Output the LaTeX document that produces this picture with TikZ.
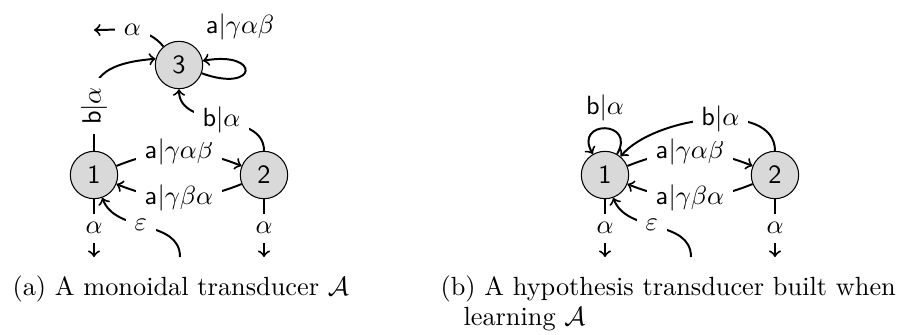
\documentclass[tikz,border=0pt]{standalone}
\begin{document}
\begin{tikzpicture}[x=0.38pt,y=-0.38pt,
  state/.style={circle,draw=black,line width=0.4pt,fill=black!15,minimum size=18pt,inner sep=0pt,font=\sffamily},
  tr/.style={->,line width=0.75pt},
  lab/.style={fill=white,inner sep=3.33pt},
  captext/.style={anchor=base west,inner sep=0pt}]
\useasboundingbox (0,0) rectangle (901,334);
% ---------- (a) ----------
\node[state] (a1) at (94,175) {1};
\node[state] (a2) at (264,175) {2};
\node[state] (a3) at (179,65) {3};
\coordinate (a1f) at (94,257);
\coordinate (a2f) at (264,257);
\coordinate (a3f) at (94,30);
\coordinate (ai) at (180,257);
\draw[tr] (a1) to[bend left=22] node[lab] {$\mathsf{a}|\gamma\alpha\beta$} (a2);
\draw[tr] (a2) to[bend left=22] node[lab] {$\mathsf{a}|\gamma\beta\alpha$} (a1);
\draw[tr] (a2) to[out=90,in=-90] node[lab] {$\mathsf{b}|\alpha$} (a3);
\draw[tr] (a1.north) -- node[lab,sloped,pos=0.8] {$\mathsf{b}|\alpha$} ++(0,-56) to[out=90,in=185] (a3.165);
\draw[tr] (a3.-20) .. controls +(-20:22.7pt) and +(10:22.7pt) .. node[pos=0.5,above,yshift=8pt,xshift=-2pt] {$\mathsf{a}|\gamma\alpha\beta$} (a3.10);
\draw[tr] (a3) to[out=130,in=0] node[lab] {$\alpha$} (a3f);
\draw[tr] (a1) -- node[lab] {$\alpha$} (a1f);
\draw[tr] (a2) -- node[lab] {$\alpha$} (a2f);
\draw[tr] (ai) to[out=90,in=-70] node[lab,pos=0.55] {$\varepsilon$} (a1);
% ---------- (b) ----------
\node[state] (b1) at (605,175) {1};
\node[state] (b2) at (775,175) {2};
\coordinate (b1f) at (605,257);
\coordinate (b2f) at (775,257);
\coordinate (bi) at (691,257);
\draw[tr] (b1) to[bend left=22] node[lab] {$\mathsf{a}|\gamma\alpha\beta$} (b2);
\draw[tr] (b2) to[bend left=22] node[lab] {$\mathsf{a}|\gamma\beta\alpha$} (b1);
\draw[tr] (b2) to[out=90,in=50,looseness=0.85] node[lab,pos=0.45] {$\mathsf{b}|\alpha$} (b1);
\draw[tr] (b1.60) .. controls +(60:15pt) and +(120:15pt) .. node[above,yshift=-1pt] {$\mathsf{b}|\alpha$} (b1.120);
\draw[tr] (b1) -- node[lab] {$\alpha$} (b1f);
\draw[tr] (b2) -- node[lab] {$\alpha$} (b2f);
\draw[tr] (bi) to[out=90,in=-70] node[lab,pos=0.55] {$\varepsilon$} (b1);
% ---------- captions ----------
\node[captext] (capa) at (12,295) {(a) A monoidal transducer $\mathcal{A}$};
\node[captext] (capb) at (440,295) {(b) A hypothesis transducer built when};
\node[captext] (capb2) at (463,325.5) {learning $\mathcal{A}$};
\end{tikzpicture}
\end{document}
